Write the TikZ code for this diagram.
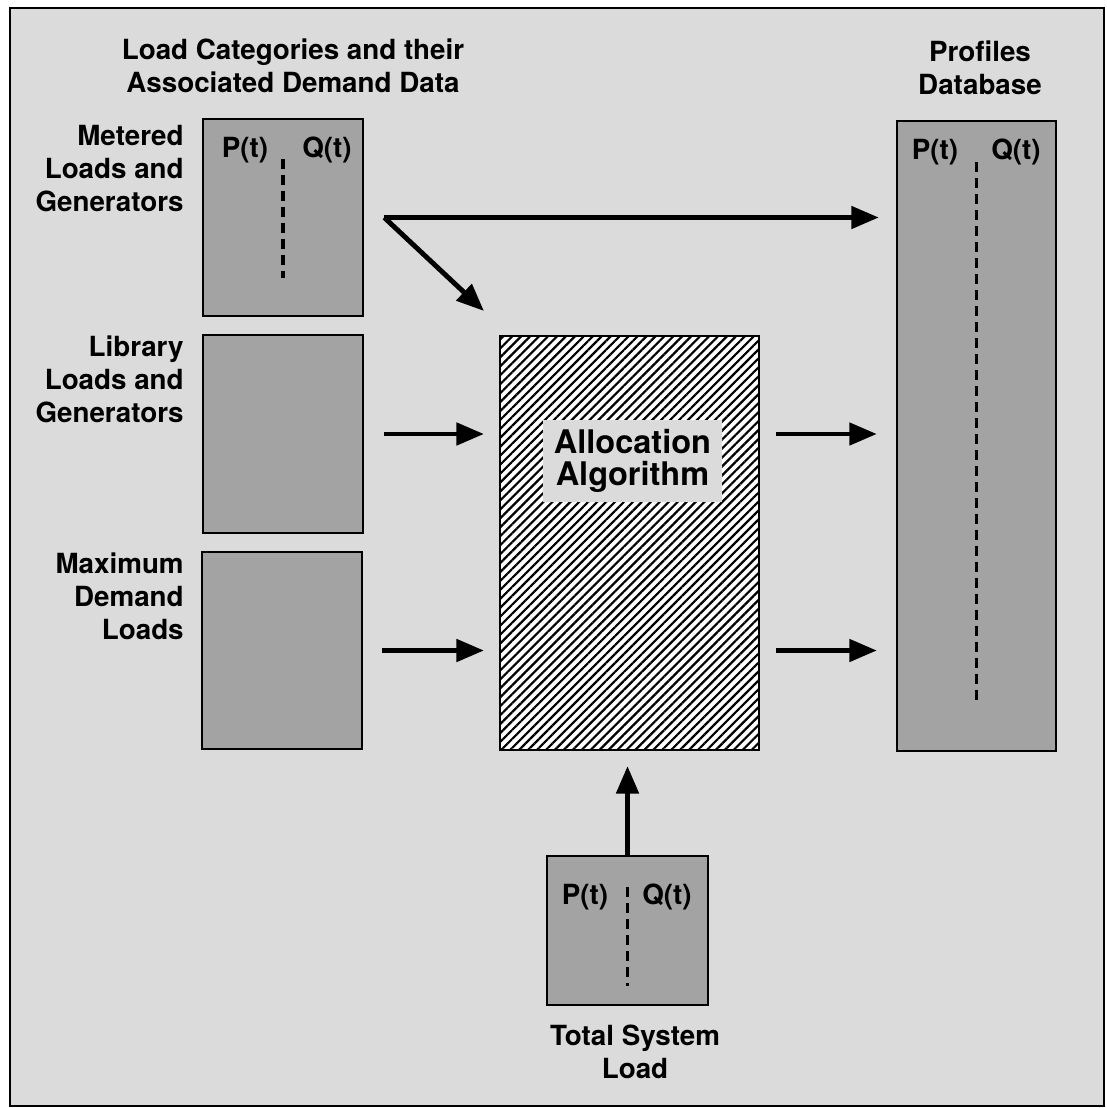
\documentclass[tikz,border=0pt]{standalone}
\usepackage{fontspec}
\setmainfont{TeX Gyre Heros}
\usepackage{tikz}
\usetikzlibrary{arrows.meta, positioning, patterns.meta}
\definecolor{bggray}{gray}{0.86}
\definecolor{boxgray}{gray}{0.64}

\tikzset{
    datbox/.style={draw, line width=1.4pt, fill=boxgray, inner sep=0pt},
    flow/.style={line width=2.8pt, -{Triangle[length=0.55cm,width=0.44cm]}},
    lbl/.style={font=\fontsize{15.8}{18.8}\selectfont\bfseries, align=right, anchor=east, inner sep=0pt},
    ttl/.style={font=\fontsize{15.8}{18.8}\selectfont\bfseries, align=center, inner sep=0pt},
    pq/.style={font=\fontsize{15.8}{18}\selectfont\bfseries, inner sep=0pt},
    divider/.style={dash pattern=on 0.2cm off 0.12cm, line width=2.2pt},
}

\begin{document}
\begin{tikzpicture}[x=0.02cm, y=-0.02cm]
\useasboundingbox (0,0) rectangle (1106,1108);
\draw[line width=1.6pt, fill=bggray] (10,8) rectangle (1104,1106);

% load categories
\node[datbox, minimum width=3.2cm, minimum height=3.94cm] (metered) at (283,217.5) {};
\node[datbox, minimum width=3.2cm, minimum height=3.96cm] (library) at (283,434) {};
\node[datbox, minimum width=3.2cm, minimum height=3.94cm] (maxdem) at (282,650.5) {};

\node[lbl] (meteredlbl) at (184,169) {Metered\\Loads and\\Generators};
\node[lbl] (librarylbl) at (184,379) {Library\\Loads and\\Generators};
\node[lbl] (maxdemlbl) at (184,596) {Maximum\\Demand\\Loads};
\node[ttl] (cattitle) at (293,66) {Load Categories and their\\Associated Demand Data};

% algorithm
\node[draw, line width=1.4pt, minimum width=5.18cm, minimum height=8.28cm,
      preaction={fill=white},
      pattern={Lines[angle=45,distance=3.6pt,line width=1.25pt]}] (alloc) at (629.5,543) {};
\node[ttl, font=\fontsize{18.5}{18.2}\selectfont\bfseries, fill=bggray,
      minimum width=3.58cm, minimum height=1.64cm] (algo) at (632.5,461) {Allocation\\Algorithm};

% database
\node[datbox, minimum width=3.18cm, minimum height=12.6cm] (profiles) at (976.5,436) {};
\node[ttl] (proftitle) at (980,68) {Profiles\\Database};

% total load
\node[datbox, minimum width=3.22cm, minimum height=2.98cm] (total) at (627.5,930.5) {};
\node[ttl] (totallbl) at (635,1052) {Total System\\Load};

% P and Q columns
\node[pq] (mP) at (245,150) {P(t)};
\node[pq] (mQ) at (327,150) {Q(t)};
\node[pq] (pP) at (935,152) {P(t)};
\node[pq] (pQ) at (1016,152) {Q(t)};
\node[pq] (tP) at (585,897) {P(t)};
\node[pq] (tQ) at (667,897) {Q(t)};
\draw[divider] ([yshift=-0.82cm]metered.north) -- ([yshift=0.78cm]metered.south);
\draw[divider] ([yshift=-0.84cm]profiles.north) -- ([yshift=1.02cm]profiles.south);
\draw[divider] ([yshift=-0.64cm]total.north) -- ([yshift=0.4cm]total.south);

% connectors
\coordinate (fork) at ([xshift=0.4cm]metered.east);
\draw[flow, shorten >=0.34cm] (fork) -- (fork -| profiles.west);
\draw[flow] (fork) -- ([shift={(-15,-24)}]alloc.north west);
\draw[flow, shorten <=0.4cm, shorten >=0.3cm] (library.east) -- (library.east -| alloc.west);
\draw[flow, shorten <=0.38cm, shorten >=0.3cm] (maxdem.east) -- (maxdem.east -| alloc.west);
\draw[flow, shorten <=0.32cm, shorten >=0.38cm] (alloc.east |- library.east) -- (profiles.west |- library.east);
\draw[flow, shorten <=0.32cm, shorten >=0.38cm] (alloc.east |- maxdem.east) -- (profiles.west |- maxdem.east);
\draw[flow, shorten >=0.3cm] (total.north) -- (total.north |- alloc.south);
\end{tikzpicture}
\end{document}
